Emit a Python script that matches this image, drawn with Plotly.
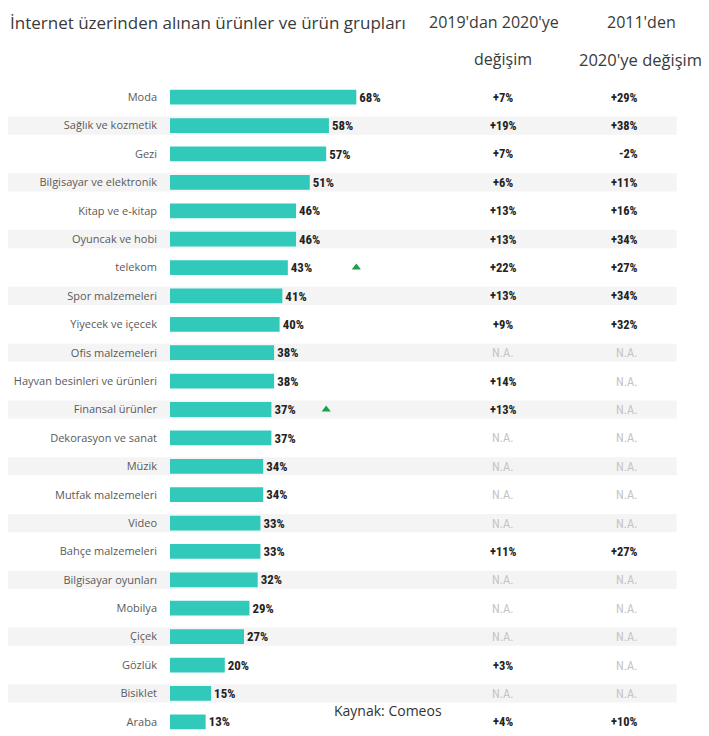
import plotly.graph_objects as go

# product groups bought online, share of shoppers (%)
categories = ["Moda", "Sağlık ve kozmetik", "Gezi", "Bilgisayar ve elektronik",
              "Kitap ve e-kitap", "Oyuncak ve hobi", "telekom", "Spor malzemeleri",
              "Yiyecek ve içecek", "Ofis malzemeleri", "Hayvan besinleri ve ürünleri",
              "Finansal ürünler", "Dekorasyon ve sanat", "Müzik", "Mutfak malzemeleri",
              "Video", "Bahçe malzemeleri", "Bilgisayar oyunları", "Mobilya", "Çiçek",
              "Gözlük", "Bisiklet", "Araba"]
share_2020 = [68, 58, 57, 51, 46, 46, 43, 41, 40, 38, 38, 37, 37, 34, 34, 33, 33, 32, 29, 27, 20, 15, 13]
change_2019_2020 = ["+7%", "+19%", "+7%", "+6%", "+13%", "+13%", "+22%", "+13%", "+9%", "N.A.",
                    "+14%", "+13%", "N.A.", "N.A.", "N.A.", "N.A.", "+11%", "N.A.", "N.A.", "N.A.",
                    "+3%", "N.A.", "+4%"]
change_2011_2020 = ["+29%", "+38%", "-2%", "+11%", "+16%", "+34%", "+27%", "+34%", "+32%", "N.A.",
                    "N.A.", "N.A.", "N.A.", "N.A.", "N.A.", "N.A.", "+27%", "N.A.", "N.A.", "N.A.",
                    "N.A.", "N.A.", "+10%"]
# small green up-triangles
arrow_cats = ["telekom", "Finansal ürünler"]
arrow_x = [68, 57]

NARROW = "Liberation Sans Narrow, Roboto Condensed, Arial Narrow, sans-serif"
HEAD = "Open Sans, sans-serif"

fig = go.Figure()

fig.add_trace(go.Bar(
    x=share_2020, y=categories, orientation="h",
    marker=dict(color="#30C9BA", line=dict(width=0)),
    width=0.52,
    text=[f"<b>{v}%</b>" for v in share_2020],
    textposition="outside", cliponaxis=False,
    textfont=dict(family=NARROW, size=14, color="#222222"),
    showlegend=False,
))

fig.add_trace(go.Scatter(
    x=arrow_x, y=arrow_cats, mode="markers",
    marker=dict(symbol="triangle-up", size=8, color="#1f9e4a"),
    showlegend=False,
))

# light row bands in the background
for i in range(len(categories)):
    if i % 2 == 1:
        fig.add_shape(type="rect", xref="paper", yref="y", x0=-0.31, x1=0.94,
                      y0=i - 0.32, y1=i + 0.32, fillcolor="#f4f4f4",
                      line=dict(width=0), layer="below")

# the two change columns
for cat, a, b in zip(categories, change_2019_2020, change_2011_2020):
    for txt, px_ in ((a, 0.618), (b, 0.872)):
        na = txt == "N.A."
        fig.add_annotation(
            x=px_, y=cat, xref="paper", yref="y", showarrow=False,
            text=txt if na else f"<b>{txt}</b>",
            font=dict(family=NARROW, size=12.5, color="#c4c4c4" if na else "#222222"),
        )

# headers (pixel spots converted to paper coords; plot area is 539 x 653 at 170,83)
head_notes = [
    ("İnternet üzerinden alınan ürünler ve ürün grupları", 208, 22, 17),
    ("2019'dan 2020'ye", 494, 22, 16),
    ("değişim", 503, 59, 16),
    ("2011'den", 641, 22, 16),
    ("2020'ye değişim", 640, 59, 16.5),
]
for txt, xp, yp, sz in head_notes:
    fig.add_annotation(
        x=(xp - 170) / 539, y=1 + (83 - yp) / 653, xref="paper", yref="paper",
        showarrow=False, text=txt, xanchor="center", yanchor="middle",
        font=dict(family=HEAD, size=sz, color="#3a3a3a"),
    )

fig.add_annotation(x=(388 - 170) / 539, y=(736 - 710) / 653, xref="paper", yref="paper",
                   showarrow=False, text="Kaynak: Comeos", xanchor="center", yanchor="middle",
                   font=dict(family=HEAD, size=14, color="#333333"))

# page body keeps an 8px margin, so the figure is 8px smaller than the window
fig.update_layout(
    width=701, height=728,
    margin=dict(l=162, r=0, t=75, b=0),
    plot_bgcolor="white", paper_bgcolor="white",
    xaxis=dict(range=[0, 196.7], visible=False, fixedrange=True),
    yaxis=dict(autorange="reversed", showgrid=False, zeroline=False, showline=False,
               ticks="", ticklabelstandoff=12, automargin=False,
               tickfont=dict(family=HEAD, size=11, color="#5a5a5a")),
)

fig.write_html("out.html")
